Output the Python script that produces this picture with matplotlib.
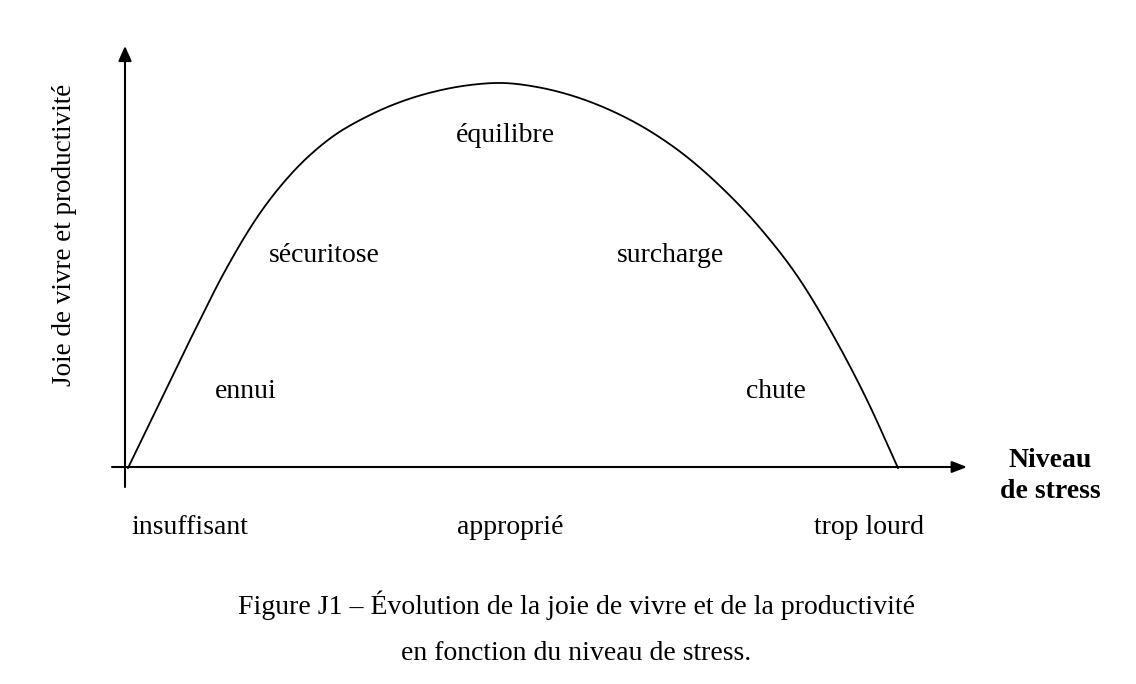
import numpy as np
import matplotlib.pyplot as plt

plt.rcParams['font.family'] = ['Liberation Serif', 'DejaVu Serif']

# curve readings: stress level (x) vs joy/productivity (y), in picture units from the origin
stress = [3, 33, 67, 100, 133, 167, 203, 245, 278, 312, 345, 378,
          412, 445, 478, 528, 562, 595, 635, 675, 708, 742, 773]
joy = [0, 62, 132, 197, 252, 295, 328, 353, 367, 377, 383, 385,
       381, 373, 361, 335, 311, 282, 240, 188, 133, 68, 0]

zone_labels = ['ennui', 'sécuritose', 'équilibre', 'surcharge', 'chute']
stress_labels = ['insuffisant', 'approprié', 'trop lourd']


def smooth(xs, ys, n=25):
    # cubic hermite through the read points, only to draw a round line
    x = np.asarray(xs, float)
    y = np.asarray(ys, float)
    sec = np.diff(y) / np.diff(x)
    m = np.empty_like(x)
    m[0], m[-1] = sec[0], sec[-1]
    w1, w2 = np.diff(x)[1:], np.diff(x)[:-1]
    m[1:-1] = (w1 * sec[:-1] + w2 * sec[1:]) / (w1 + w2)
    ox, oy = [], []
    for i in range(len(x) - 1):
        h = x[i + 1] - x[i]
        t = np.linspace(0, 1, n, endpoint=False)
        h00 = 2 * t ** 3 - 3 * t ** 2 + 1
        h10 = t ** 3 - 2 * t ** 2 + t
        h01 = -2 * t ** 3 + 3 * t ** 2
        h11 = t ** 3 - t ** 2
        ox.append(x[i] + t * h)
        oy.append(h00 * y[i] + h10 * h * m[i] + h01 * y[i + 1] + h11 * h * m[i + 1])
    ox.append([x[-1]])
    oy.append([y[-1]])
    return np.concatenate(ox), np.concatenate(oy)


fig = plt.figure(figsize=(11.36, 6.84), dpi=100)
ax = fig.add_axes([0, 0, 1, 1])
ax.set_xlim(-125, 1011)
ax.set_ylim(-216, 468)
ax.axis('off')

fs = 20

# axes with arrows
ax.annotate('', xy=(842, 1), xytext=(-13, 1),
            arrowprops=dict(arrowstyle='-|>,head_length=0.9,head_width=0.35', lw=1.5, color='black',
                            shrinkA=0, shrinkB=0))
ax.annotate('', xy=(0, 422), xytext=(0, -19),
            arrowprops=dict(arrowstyle='-|>,head_length=0.9,head_width=0.4', lw=1.5, color='black',
                            shrinkA=0, shrinkB=0))

sx, sy = smooth(stress, joy)
ax.plot(sx, sy, color='black', lw=1.3, solid_joinstyle='round')

# zone labels inside the curve
zone_pos = [(121, 76), (199, 212), (380, 333), (545, 212), (651, 76)]
for t, (x, y) in zip(zone_labels, zone_pos):
    ax.text(x, y, t, fontsize=fs, ha='center', va='center')

# stress level labels under the axis
for t, x in zip(stress_labels, [65, 385, 744]):
    ax.text(x, -59, t, fontsize=fs, ha='center', va='center')

ax.text(925, -8, 'Niveau\nde stress', fontsize=fs, fontweight='bold', ha='center', va='center',
        linespacing=1.3)
ax.text(-60, 233, 'Joie de vivre et productivité', fontsize=19.5, rotation=90, ha='center', va='center')

ax.text(451, -137, 'Figure J1 – Évolution de la joie de vivre et de la productivité',
        fontsize=fs, ha='center', va='center')
ax.text(451, -185, 'en fonction du niveau de stress.', fontsize=fs, ha='center', va='center')

fig.savefig('out.png', dpi=100)
